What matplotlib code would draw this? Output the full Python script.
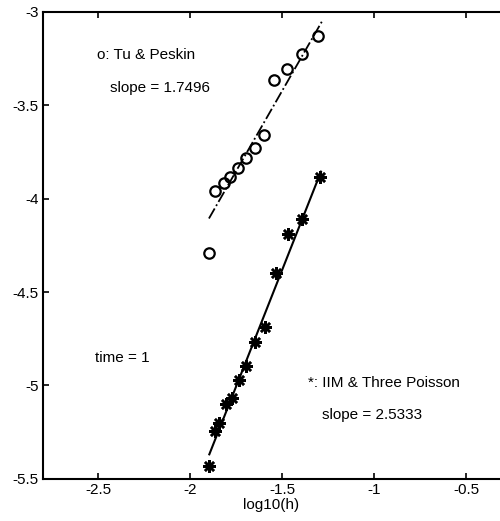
import numpy as np
import matplotlib.pyplot as plt

plt.rcParams['font.family'] = ['Liberation Sans', 'DejaVu Sans']

# Tu & Peskin (circles) and its dash-dot fit
tp_x = [-1.898, -1.865, -1.815, -1.784, -1.742, -1.697, -1.648, -1.599,
        -1.543, -1.472, -1.394, -1.304]
tp_y = [-4.290, -3.959, -3.918, -3.882, -3.837, -3.783, -3.726, -3.658,
        -3.362, -3.308, -3.224, -3.129]
tp_fit_x = [-1.898, -1.284]
tp_fit_y = [-4.106, -3.051]

# IIM & Three Poisson (stars) and its solid fit
iim_x = [-1.896, -1.865, -1.841, -1.808, -1.771, -1.737, -1.695, -1.648,
         -1.596, -1.531, -1.467, -1.391, -1.296]
iim_y = [-5.432, -5.244, -5.202, -5.101, -5.065, -4.972, -4.894, -4.765,
         -4.688, -4.398, -4.190, -4.109, -3.882]
iim_fit_x = [-1.896, -1.289]
iim_fit_y = [-5.369, -3.855]

xticks = [-2.5, -2, -1.5, -1, -0.5]
yticks = [-5.5, -5, -4.5, -4, -3.5, -3]

fig = plt.figure(figsize=(5, 5.21), dpi=100)
ax = fig.add_axes([0.086, 0.081, 0.914, 0.896])

ax.plot(tp_fit_x, tp_fit_y, color='black', linestyle='-.', linewidth=1.3)
ax.plot(tp_x, tp_y, linestyle='none', marker='o', markersize=7.5,
        markerfacecolor='none', markeredgecolor='black', markeredgewidth=1.6)
ax.plot(iim_fit_x, iim_fit_y, color='black', linestyle='-', linewidth=1.5)
# matlab style asterisk: plus and cross on top of each other
ax.plot(iim_x, iim_y, linestyle='none', marker=(8, 2, 0), markersize=9,
        color='black', markeredgewidth=1.8)

ax.text(-2.506, -3.231, 'o: Tu & Peskin', fontsize=11, va='center', ha='left')
ax.text(-2.436, -3.408, 'slope = 1.7496', fontsize=11, va='center', ha='left')
ax.text(-2.517, -4.855, 'time = 1', fontsize=11, va='center', ha='left')
ax.text(-1.360, -4.989, '*: IIM & Three Poisson', fontsize=11, va='center', ha='left')
ax.text(-1.285, -5.157, 'slope = 2.5333', fontsize=11, va='center', ha='left')

ax.set_xlim(-2.8, -0.316)
ax.set_ylim(-5.5, -3)
ax.set_xticks(xticks)
ax.set_xticklabels(['-2.5', '-2', '-1.5', '-1', '-0.5'])
ax.set_yticks(yticks)
ax.set_yticklabels(['-5.5', '-5', '-4.5', '-4', '-3.5', '-3'])
ax.tick_params(direction='in', length=4, width=1.2, labelsize=11, top=True,
               pad=3)
ax.spines['right'].set_visible(False)
for s in ['left', 'bottom', 'top']:
    ax.spines[s].set_linewidth(1.5)
ax.set_xlabel('log10(h)', fontsize=11, labelpad=1)

fig.savefig('out.png', dpi=100)
